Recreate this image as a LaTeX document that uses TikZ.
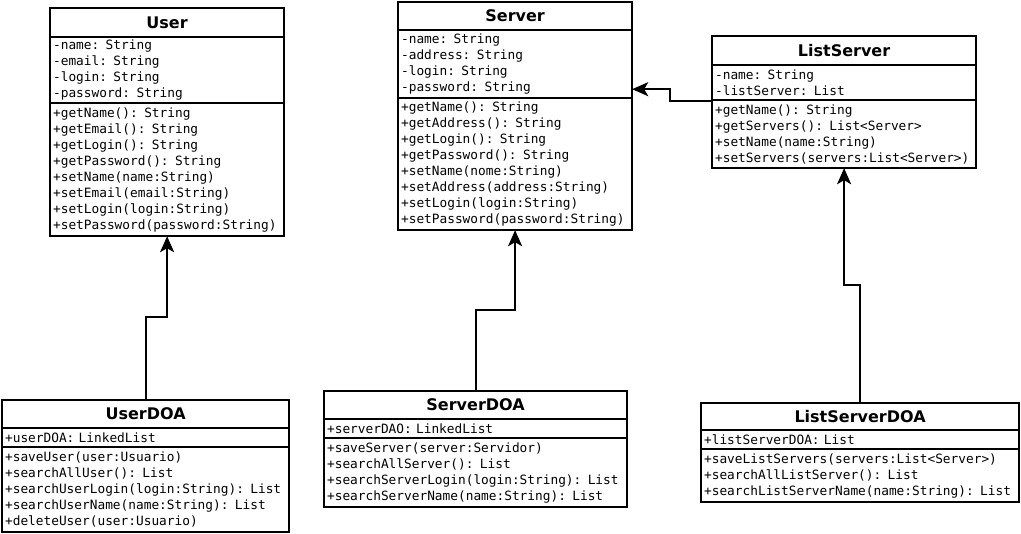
\documentclass[tikz,border=0pt]{standalone}
\usepackage{fontspec}
\setmainfont{DejaVu Sans}
\setmonofont{DejaVu Sans Mono}
\usetikzlibrary{arrows.meta,calc}
\tikzset{
  sect/.style={draw, line width=2.2pt, anchor=north west, inner xsep=3pt, inner ysep=0pt,
    font=\ttfamily\fontsize{12.8}{16}\selectfont, align=left},
  ttl/.style={draw, line width=2.2pt, anchor=north west, inner sep=0pt,
    font=\bfseries\fontsize{16}{18}\selectfont},
  conn/.style={line width=2.2pt, -{Stealth[length=16pt,width=14pt,inset=4pt]}, shorten >=-1pt},
}
\begin{document}
\begin{tikzpicture}[x=1pt,y=1pt]
\useasboundingbox[fill=white] (0,0) rectangle (1021,-534);

% User
\node[ttl, minimum width=234pt, minimum height=29pt] (User-t) at (49,-7) {User};
\node[sect, text width=228pt, minimum height=66pt] (User-a) at (49,-36)
 {-name: String\\-email: String\\-login: String\\-password: String};
\node[sect, text width=228pt, minimum height=133pt] (User-m) at (49,-102)
 {+getName(): String\\+getEmail(): String\\+getLogin(): String\\+getPassword(): String\\+setName(name:String)\\+setEmail(email:String)\\+setLogin(login:String)\\+setPassword(password:String)};

% Server
\node[ttl, minimum width=234pt, minimum height=28pt] (Server-t) at (397,-1) {Server};
\node[sect, text width=228pt, minimum height=68pt] (Server-a) at (397,-29)
 {-name: String\\-address: String\\-login: String\\-password: String};
\node[sect, text width=228pt, minimum height=132pt] (Server-m) at (397,-97)
 {+getName(): String\\+getAddress(): String\\+getLogin(): String\\+getPassword(): String\\+setName(nome:String)\\+setAddress(address:String)\\+setLogin(login:String)\\+setPassword(password:String)};

% ListServer
\node[ttl, minimum width=264pt, minimum height=29pt] (LS-t) at (711,-35) {ListServer};
\node[sect, text width=258pt, minimum height=35pt] (LS-a) at (711,-64)
 {-name: String\\-listServer: List};
\node[sect, text width=258pt, minimum height=68pt] (LS-m) at (711,-99)
 {+getName(): String\\+getServers(): List<Server>\\+setName(name:String)\\+setServers(servers:List<Server>)};

% UserDOA
\node[ttl, minimum width=287pt, minimum height=28pt] (UD-t) at (1,-399) {UserDOA};
\node[sect, text width=281pt, minimum height=19pt] (UD-a) at (1,-427)
 {+userDOA: LinkedList};
\node[sect, text width=281pt, minimum height=85pt] (UD-m) at (1,-446)
 {+saveUser(user:Usuario)\\+searchAllUser(): List\\+searchUserLogin(login:String): List\\+searchUserName(name:String): List\\+deleteUser(user:Usuario)};

% ServerDOA
\node[ttl, minimum width=303pt, minimum height=28pt] (SD-t) at (323,-390) {ServerDOA};
\node[sect, text width=297pt, minimum height=19pt] (SD-a) at (323,-418)
 {+serverDAO: LinkedList};
\node[sect, text width=297pt, minimum height=69pt] (SD-m) at (323,-437)
 {+saveServer(server:Servidor)\\+searchAllServer(): List\\+searchServerLogin(login:String): List\\+searchServerName(name:String): List};

% ListServerDOA
\node[ttl, minimum width=318pt, minimum height=27pt] (LD-t) at (700,-402) {ListServerDOA};
\node[sect, text width=312pt, minimum height=19pt] (LD-a) at (700,-429)
 {+listServerDOA: List};
\node[sect, text width=312pt, minimum height=53pt] (LD-m) at (700,-448)
 {+saveListServers(servers:List<Server>)\\+searchAllListServer(): List\\+searchListServerName(name:String): List};

% connectors
\draw[conn] (UD-t.north) -- ++(0,82) -| (User-m.south);
\draw[conn] (SD-t.north) -- ++(0,80) -| (Server-m.south);
\draw[conn] (LD-t.north) -- ++(0,117) -| (LS-m.south);
\draw[conn] ([yshift=-2pt]LS-m.north west) -- ++(-41,0) |- ([yshift=10pt]Server-a.south east);
\end{tikzpicture}
\end{document}
